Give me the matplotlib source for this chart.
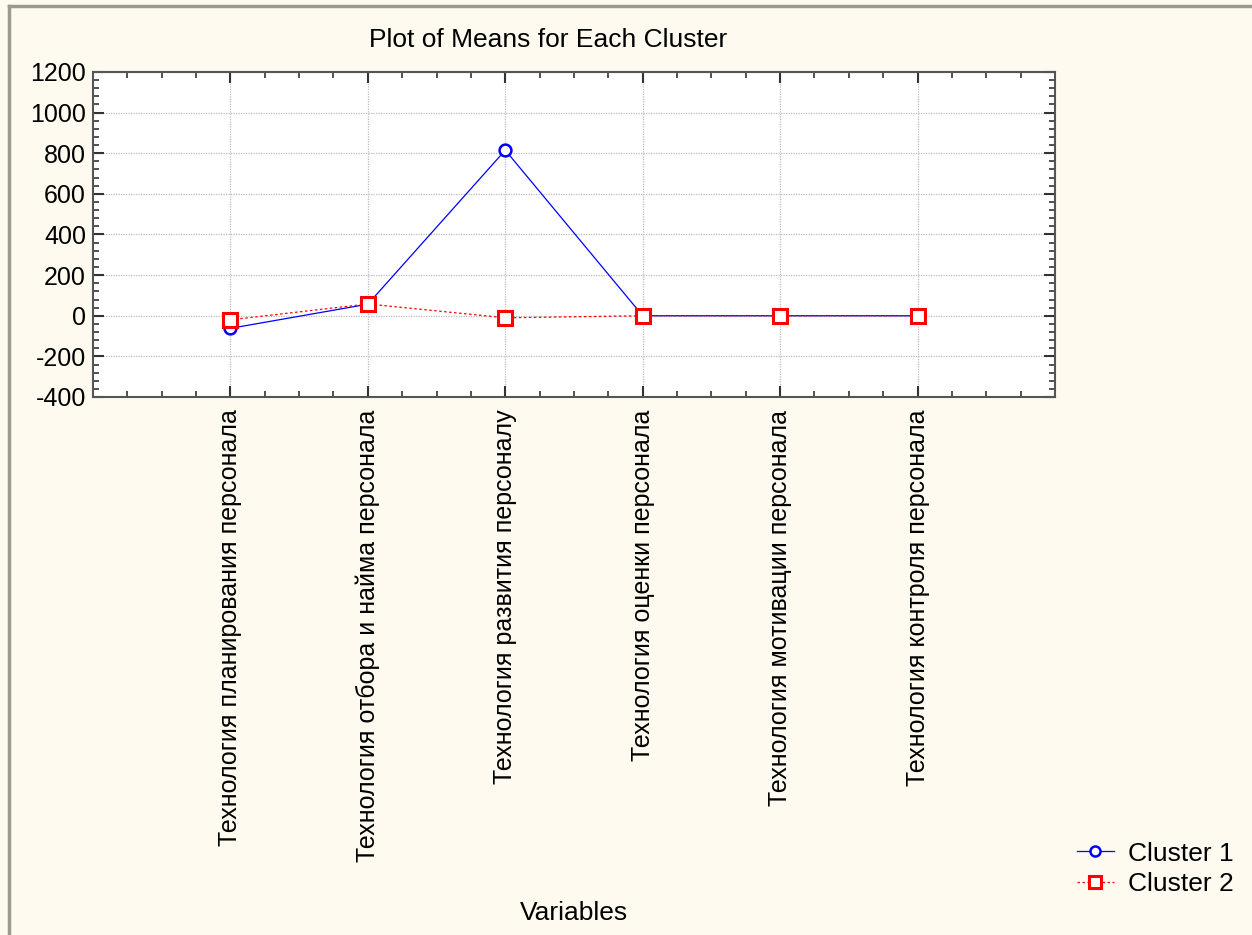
import matplotlib
matplotlib.use("Agg")
import matplotlib.pyplot as plt
from matplotlib.ticker import MultipleLocator
from matplotlib.lines import Line2D

plt.rcParams['font.family'] = ['Liberation Sans', 'DejaVu Sans']
plt.rcParams['axes.unicode_minus'] = False

categories = [
    "Технология планирования персонала",
    "Технология отбора и найма персонала",
    "Технология развития персоналу",
    "Технология оценки персонала",
    "Технология мотивации персонала",
    "Технология контроля персонала",
]
cluster1 = [-62, 57, 815, 0, 0, 0]
cluster2 = [-20, 58, -10, 0, 0, 0]
yticks = [-400, -200, 0, 200, 400, 600, 800, 1000, 1200]

W, H = 1252, 935
fig = plt.figure(figsize=(W / 100, H / 100), dpi=100)
fig.patch.set_facecolor('#FFFAEF')

# window frame (gray border left and top)
fig.add_artist(Line2D([9 / W, 9 / W], [0, 1 - 6 / H], transform=fig.transFigure, color='#9a9a8e', lw=2.5))
fig.add_artist(Line2D([9 / W, 1], [1 - 6 / H, 1 - 6 / H], transform=fig.transFigure, color='#9a9a8e', lw=2.5))

ax = fig.add_axes([93 / W, 1 - 397 / H, (1055 - 93) / W, (397 - 72) / H])
ax.set_facecolor('white')

x = list(range(1, len(categories) + 1))
l1, = ax.plot(x, cluster1, color='#0000FF', lw=0.9, marker='o', ms=8.5,
              mfc='white', mec='#0000FF', mew=1.8, label='Cluster 1', zorder=3)
l2, = ax.plot(x, cluster2, color='#FF0000', lw=0.9, ls=(0, (2, 2)), marker='s', ms=9.5,
              mfc='white', mec='#FF0000', mew=2.2, label='Cluster 2', zorder=4)

ax.set_xlim(0, 7)
ax.set_ylim(-400, 1200)
ax.set_yticks(yticks)
ax.set_xticks(x)
ax.set_xticklabels(categories, rotation=90, fontsize=18)
ax.xaxis.set_minor_locator(MultipleLocator(0.25))
ax.yaxis.set_minor_locator(MultipleLocator(40))
ax.tick_params(axis='both', which='both', direction='in', top=True, right=True, color='#333333')
ax.tick_params(axis='both', which='major', length=8, width=1.5, labelsize=18)
ax.tick_params(axis='both', which='minor', length=4, width=1.2)
ax.tick_params(axis='x', which='major', pad=9)
ax.tick_params(axis='y', which='major', pad=5)
ax.grid(True, which='major', color='#bdbdbd', ls=(0, (1, 1)), lw=0.9)
for s in ax.spines.values():
    s.set_color('#555555')
    s.set_linewidth(1.5)

fig.text(548 / W, 1 - 40 / H, "Plot of Means for Each Cluster", ha='center', va='center', fontsize=19)
fig.text(574 / W, 1 - 913 / H, "Variables", ha='center', va='center', fontsize=19)

fig.legend(handles=[l1, l2], loc='center left', bbox_to_anchor=(1077 / W, 1 - 869 / H),
           frameon=False, fontsize=19, handlelength=1.4, handletextpad=0.55, labelspacing=0.25,
           borderpad=0, borderaxespad=0, markerscale=0.85)

fig.savefig('out.png', dpi=100, facecolor=fig.get_facecolor())
